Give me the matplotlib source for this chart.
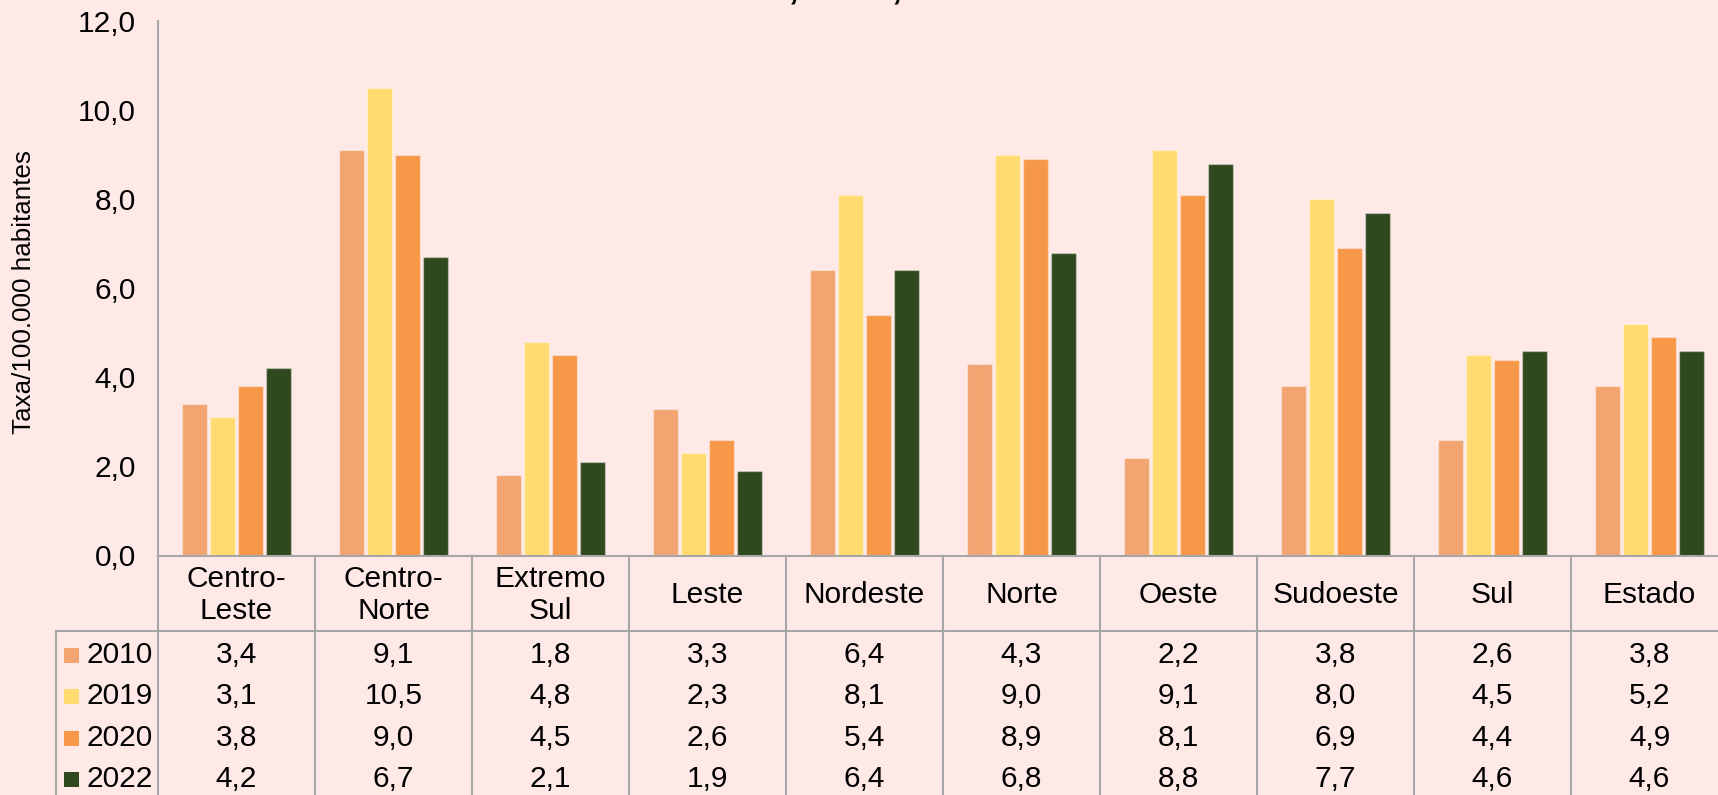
import matplotlib.pyplot as plt
from matplotlib import transforms
from matplotlib.patches import Rectangle
from matplotlib.ticker import FuncFormatter
import numpy as np

plt.rcParams['font.family'] = ['Liberation Sans', 'DejaVu Sans']

# dados por núcleo regional
regioes = ['Centro-\nLeste', 'Centro-\nNorte', 'Extremo\nSul', 'Leste', 'Nordeste',
           'Norte', 'Oeste', 'Sudoeste', 'Sul', 'Estado']
anos = ['2010', '2019', '2020', '2022']
taxa_2010 = [3.4, 9.1, 1.8, 3.3, 6.4, 4.3, 2.2, 3.8, 2.6, 3.8]
taxa_2019 = [3.1, 10.5, 4.8, 2.3, 8.1, 9.0, 9.1, 8.0, 4.5, 5.2]
taxa_2020 = [3.8, 9.0, 4.5, 2.6, 5.4, 8.9, 8.1, 6.9, 4.4, 4.9]
taxa_2022 = [4.2, 6.7, 2.1, 1.9, 6.4, 6.8, 8.8, 7.7, 4.6, 4.6]
series = [taxa_2010, taxa_2019, taxa_2020, taxa_2022]
cores = ['#F2A571', '#FFDB70', '#F79748', '#30481E']

fundo = '#FEE9E7'
cinza = '#A6A6A6'
W, H = 1718, 795
fs = 21.5


def fy(py):
    # pixel vertical (a partir do topo) -> fração da figura
    return 1 - py / H


def virgula(v):
    return f'{v:.1f}'.replace('.', ',')


fig = plt.figure(figsize=(W / 100, H / 100), dpi=100, facecolor=fundo)
ax = fig.add_axes([158 / W, fy(555.5), 1570 / W, (555.5 - 21) / H])
ax.set_facecolor(fundo)

x = np.arange(len(regioes))
passo = 0.178
for k, (vals, cor) in enumerate(zip(series, cores)):
    ax.bar(x + (k - 1.5) * passo, vals, width=0.164, color=cor,
           edgecolor=(1, 1, 1, 0.35), linewidth=1, label=anos[k], zorder=2)

ax.set_xlim(-0.5, len(regioes) - 0.5)
ax.set_ylim(0, 12)
ax.set_yticks(np.arange(0, 12.1, 2))
ax.yaxis.set_major_formatter(FuncFormatter(lambda v, p: virgula(v)))
ax.tick_params(axis='y', length=0, pad=16, labelsize=fs)
ax.set_xticks([])
for s in ['top', 'right']:
    ax.spines[s].set_visible(False)
for s in ['left', 'bottom']:
    ax.spines[s].set_color(cinza)
    ax.spines[s].set_linewidth(1.5)

fig.text(24 / W, fy(292), 'Taxa/100.000 habitantes', rotation=90,
         ha='center', va='center', fontsize=18.7)

# título (cortado no topo)
fig.text(706 / W, 1 + 2 / H, '2010, 2019, 2020 e 2022', ha='left',
         va='baseline', fontsize=26.7, fontweight='bold')

# tabela de dados abaixo do gráfico
trans = transforms.blended_transform_factory(ax.transData, fig.transFigure)
for i in range(len(regioes) + 1):
    ax.plot([i - 0.5, i - 0.5], [fy(555.5), fy(H + 5)], color=cinza, lw=1.5,
            transform=trans, clip_on=False)
fig.add_artist(plt.Line2D([56 / W, 1], [fy(631), fy(631)], color=cinza, lw=1.5))
fig.add_artist(plt.Line2D([56 / W, 56 / W], [fy(631), 0], color=cinza, lw=1.5))

for i, nome in enumerate(regioes):
    ax.text(i, fy(595), nome, transform=trans, ha='center', va='center',
            fontsize=fs, linespacing=1.15, clip_on=False)

linhas_y = [655, 696, 738, 779]
for k, (vals, cor) in enumerate(zip(series, cores)):
    yc = linhas_y[k]
    fig.add_artist(Rectangle((64 / W, fy(yc + 7.5)), 15 / W, 15 / H,
                             facecolor=cor, edgecolor='none',
                             transform=fig.transFigure))
    fig.text(86 / W, fy(yc), anos[k], ha='left', va='center', fontsize=fs)
    for i, v in enumerate(vals):
        ax.text(i, fy(yc), virgula(v), transform=trans, ha='center',
                va='center', fontsize=fs, clip_on=False)

fig.savefig('out.png', dpi=100, facecolor=fundo)
